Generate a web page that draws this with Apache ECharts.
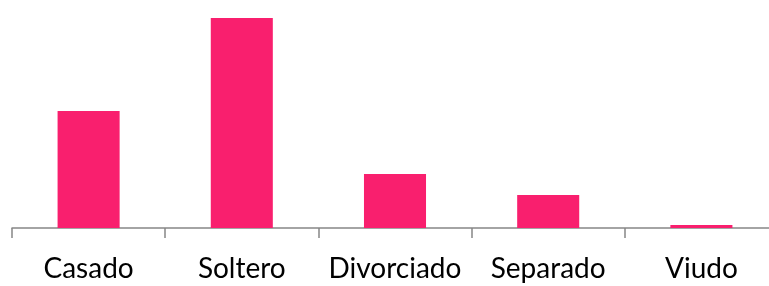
<!DOCTYPE html>
<html>
<head>
<meta charset="utf-8">
<script src="https://cdn.jsdelivr.net/npm/echarts@6/dist/echarts.min.js"></script>
<style>
  html, body { margin: 0; padding: 0; background: #fff; }
  #chart { width: 769px; height: 286px; }
</style>
</head>
<body>
<div id="chart"></div>
<script>
const categories = ["Casado", "Soltero", "Divorciado", "Separado", "Viudo"]
const values = [117, 210, 54, 33, 3]

var chart = echarts.init(document.getElementById('chart'))
chart.setOption({
  animation: false,
  grid: {
    left: 12,
    width: 766,
    top: 18,
    bottom: 58,
    containLabel: false,
    outerBoundsMode: 'none'
  },
  xAxis: {
    type: 'category',
    data: categories,
    axisLine: { show: true, lineStyle: { color: '#878787', width: 1.5 } },
    axisTick: { show: true, interval: 0, length: 10, lineStyle: { color: '#878787', width: 1.5 } },
    axisLabel: {
      interval: 0,
      hideOverlap: false,
      margin: 27,
      fontFamily: 'Lato',
      fontSize: 28,
      color: '#000'
    }
  },
  yAxis: {
    type: 'value',
    min: 0,
    max: 210,
    show: false,
    splitLine: { show: false }
  },
  series: [{
    type: 'bar',
    data: values,
    barWidth: '40.5%',
    itemStyle: { color: '#f91f6e' }
  }]
})
</script>
</body>
</html>
